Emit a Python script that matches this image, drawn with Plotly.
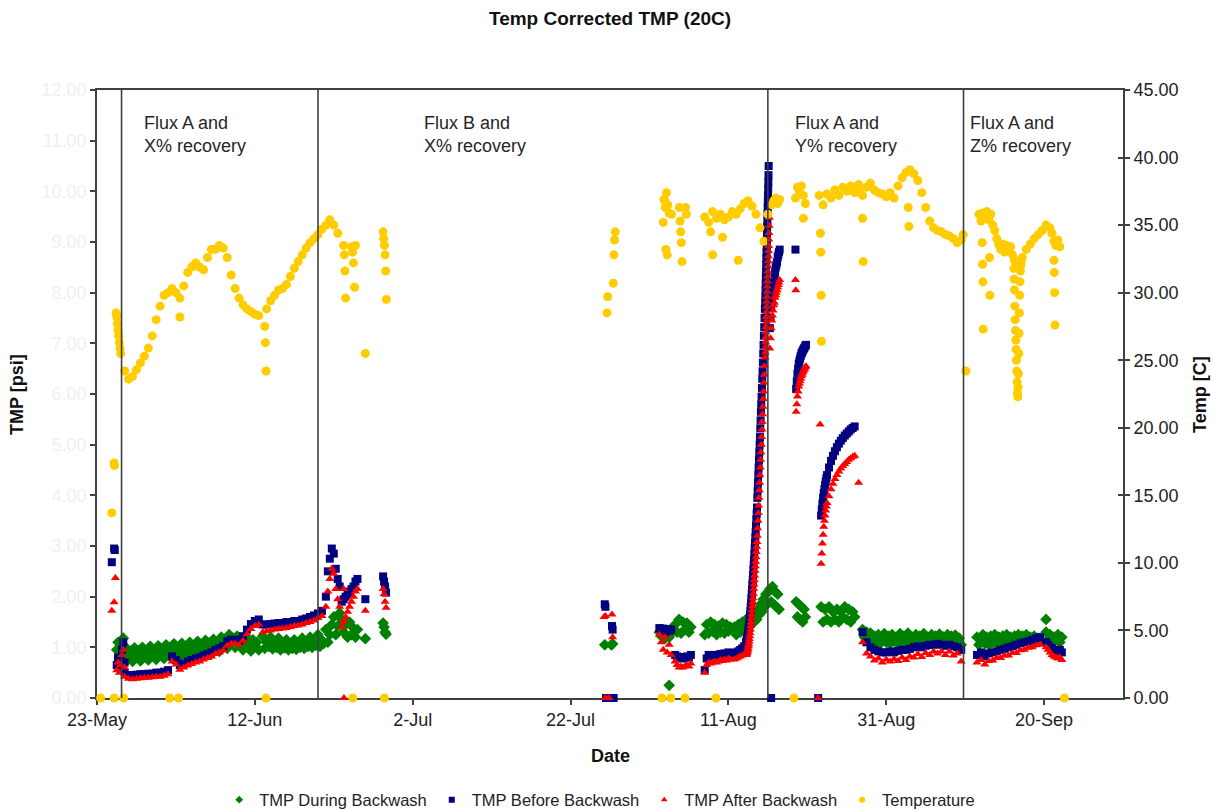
import numpy as np
import pandas as pd
import plotly.graph_objects as go

# ---------------- TMP During Backwash (psi) : segments (start, step hours, values) ----------
g_a_start, g_a_step = "2010-05-25 12:00", 4
g_a = [0.95, 1.10, 0.80, 1.05, 0.90, 1.18, 1.00]
g_b_start, g_b_step = "2010-05-26 12:00", 6
g_b = [0.70, 0.98, 0.82, 0.92, 0.72, 0.99, 0.84, 0.93, 0.73, 1.00, 0.85, 0.94,
       0.75, 1.02, 0.86, 0.95, 0.76, 1.03, 0.88, 0.96, 0.78, 1.05, 0.90, 0.98,
       0.79, 1.07, 0.91, 1.00, 0.81, 1.08, 0.93, 1.01, 0.82, 1.10, 0.95, 1.03,
       0.83, 1.12, 0.96, 1.05, 0.85, 1.14, 0.98, 1.07, 0.87, 1.16, 1.00, 1.10,
       0.92, 1.20, 1.05, 1.14, 0.98, 1.25, 1.10, 1.18, 1.00, 1.22, 1.08, 1.15,
       0.95, 1.18, 1.03, 1.12, 0.93, 1.15, 1.02, 1.10, 0.95]
g_c_start, g_c_step = "2010-06-13 00:00", 6
g_c = [1.22, 0.98, 1.10, 1.02, 1.20, 0.97, 1.08, 1.00, 1.18, 0.95, 1.06, 0.99,
       1.15, 0.95, 1.05, 0.98, 1.15, 0.96, 1.06, 1.00, 1.18, 0.98, 1.08, 1.02,
       1.20, 1.00, 1.10, 1.04, 1.25, 1.02, 1.14, 1.08, 1.35, 1.10, 1.25, 1.45,
       1.60, 1.25, 1.42, 1.68, 1.55, 1.30, 1.45, 1.20, 1.50, 1.25, 1.38, 1.20, 1.35]
g_d_start, g_d_step = "2010-08-02 06:00", 6
g_d = [1.30, 1.22, 1.35, 1.18, 1.32, 1.20, 1.28]
g_e_start, g_e_step = "2010-08-04 06:00", 6
g_e = [1.45, 1.30, 1.55, 1.28, 1.50, 1.35, 1.48, 1.30, 1.40]
g_f_start, g_f_step = "2010-08-08 00:00", 6
g_f = [1.25, 1.45, 1.28, 1.50, 1.32, 1.45, 1.25, 1.42, 1.30, 1.48, 1.28, 1.45, 1.32, 1.40]
g_g_start, g_g_step = "2010-08-11 18:00", 6
g_g = [1.40, 1.25, 1.45, 1.30, 1.50, 1.35, 1.55]
g_h_start, g_h_step = "2010-08-13 06:00", 4
g_h = [1.35, 1.50, 1.40, 1.55, 1.45, 1.60, 1.50, 1.70, 1.55, 1.75, 1.65, 1.85, 1.70, 1.95, 1.80,
       2.05, 1.85, 2.10]
g_i_start, g_i_step = "2010-08-16 06:00", 4
g_i = [2.15, 1.90, 2.20, 1.85, 2.10, 1.80, 2.05, 1.75]
g_j_start, g_j_step = "2010-08-19 14:00", 4
g_j = [1.90, 1.60, 1.85, 1.55, 1.80, 1.50, 1.75, 1.60]
g_k_start, g_k_step = "2010-08-22 18:00", 6
g_k = [1.80, 1.50, 1.75, 1.55, 1.80, 1.50, 1.70, 1.55, 1.75, 1.50, 1.70, 1.60, 1.80, 1.55, 1.75,
       1.50, 1.70, 1.60]
g_l_start, g_l_step = "2010-08-28 00:00", 6
g_l = [1.35, 1.20, 1.30, 1.12, 1.28, 1.10, 1.22, 1.08, 1.25, 1.08, 1.18, 1.27,
       1.10, 1.22, 1.08, 1.25, 1.12, 1.20, 1.08, 1.27, 1.12, 1.22, 1.10, 1.28,
       1.12, 1.20, 1.10, 1.25, 1.10, 1.22, 1.12, 1.27, 1.10, 1.20, 1.12, 1.25,
       1.10, 1.22, 1.12, 1.26, 1.10, 1.20, 1.12, 1.25, 1.12, 1.22, 1.10, 1.24,
       1.08, 1.18, 1.05]
g_m_start, g_m_step = "2010-09-11 12:00", 6
g_m = [1.20, 1.05, 1.15, 1.25, 1.08, 1.20, 1.05, 1.22, 1.10, 1.25, 1.08, 1.20,
       1.10, 1.22, 1.08, 1.25, 1.10, 1.20, 1.08, 1.22, 1.10, 1.25, 1.10, 1.22,
       1.12, 1.25, 1.10, 1.20, 1.12, 1.22, 1.10, 1.18, 1.15]
g_n_start, g_n_step = "2010-09-20 06:00", 6
g_n = [1.30, 1.15, 1.25, 1.10, 1.20, 1.15, 1.25, 1.10, 1.20]
g_extra_t = ["2010-06-26 00:00", "2010-06-28 06:00", "2010-06-28 09:00", "2010-06-28 12:00",
             "2010-06-28 15:00", "2010-07-26 08:00", "2010-07-27 04:00", "2010-07-27 08:00",
             "2010-08-03 12:00", "2010-09-20 06:00"]
g_extra_v = [1.17, 1.48, 1.40, 1.30, 1.26, 1.05, 1.05, 1.07, 0.25, 1.55]

# ---------------- TMP Before Backwash (psi) ----------------
n_a_start, n_a_step = "2010-05-25 12:00", 4
n_a = [0.65, 0.80, 0.60, 0.75, 0.95, 1.10, 0.70]
n_b_start, n_b_step = "2010-05-26 12:00", 12
n_b = [0.50, 0.45, 0.45, 0.46, 0.47, 0.47, 0.48, 0.48, 0.50, 0.50, 0.52, 0.55, 0.82, 0.75, 0.65,
       0.68, 0.72, 0.75, 0.78, 0.80, 0.84, 0.87, 0.90, 0.95, 0.98, 1.02, 1.12, 1.15, 1.15, 1.13,
       1.22, 1.35, 1.46, 1.52, 1.55]
n_c_start, n_c_step = "2010-06-13 00:00", 12
n_c = [1.45, 1.45, 1.46, 1.47, 1.48, 1.48, 1.50, 1.50, 1.52, 1.52, 1.55, 1.57, 1.60, 1.63, 1.67, 1.72]
n_d_start, n_d_step = "2010-06-21 00:00", 6
n_d = [2.00, 2.50, 2.75, 2.95, 2.85, 2.55, 2.35, 2.20]
n_e_start, n_e_step = "2010-06-23 00:00", 6
n_e = [1.90, 1.95, 2.00, 2.05, 2.10, 2.15, 2.20, 2.30, 2.35]
n_f_start, n_f_step = "2010-08-02 06:00", 6
n_f = [1.38, 1.35, 1.37, 1.30, 1.36, 1.33, 1.35]
n_g_start, n_g_step = "2010-08-04 06:00", 6
n_g = [0.85, 0.82, 0.80, 0.80, 0.78, 0.80, 0.82, 0.80, 0.85]
n_h_start, n_h_step = "2010-08-08 00:00", 6
n_h = [0.55, 0.78, 0.85, 0.80, 0.82, 0.85, 0.83, 0.85, 0.87, 0.85, 0.88, 0.86, 0.90, 0.88]
n_i_start, n_i_step = "2010-08-11 18:00", 6
n_i = [0.88, 0.90, 0.92, 0.95, 0.98, 1.02, 1.08]
n_j1_start, n_j1_step = "2010-08-13 06:00", 1
n_j1 = [1.10, 1.12, 1.14, 1.17, 1.20, 1.24, 1.28, 1.33, 1.38, 1.44, 1.50, 1.57, 1.64, 1.72, 1.80,
        1.88, 1.97, 2.06, 2.15, 2.24, 2.33, 2.43, 2.53, 2.63, 2.73, 2.84, 2.95, 3.06, 3.17, 3.28,
        3.40, 3.52, 3.64, 3.76]
n_j2_start, n_j2_step = "2010-08-14 16:00", 1
n_j2 = [3.95, 4.10, 4.25, 4.40, 4.55, 4.70, 4.85, 5.00, 5.15, 5.32, 5.48, 5.65, 5.80, 5.95, 6.12,
        6.30, 6.45, 6.62, 6.80, 6.97, 7.15, 7.32, 7.50, 7.68]
n_j3_start, n_j3_step = "2010-08-15 16:00", 0.5
n_j3 = [7.80, 7.92, 8.05, 8.18, 8.30, 8.42, 8.55, 8.68, 8.80, 8.92, 9.05, 9.18, 9.30, 9.42, 9.55,
        9.68, 9.80, 9.92, 10.05, 10.18, 10.32, 10.50]
n_k_start, n_k_step = "2010-08-16 06:00", 2
n_k = [7.30, 7.50, 7.70, 7.85, 8.00, 8.10, 8.20, 8.30, 8.40, 8.50, 8.55, 8.60, 8.70, 8.75, 8.80, 8.85]
n_l_start, n_l_step = "2010-08-19 14:00", 2
n_l = [6.10, 6.25, 6.40, 6.50, 6.60, 6.65, 6.70, 6.75, 6.80, 6.82, 6.85, 6.88, 6.90, 6.92, 6.95, 6.97]
n_m1_start, n_m1_step = "2010-08-22 18:00", 2
n_m1 = [3.60, 3.72, 3.84, 3.95, 4.04, 4.12, 4.20, 4.27, 4.34]
n_m2_start, n_m2_step = "2010-08-23 12:00", 6
n_m2 = [4.40, 4.55, 4.68, 4.78, 4.87, 4.95, 5.02, 5.08, 5.13, 5.18, 5.22, 5.26, 5.30, 5.33, 5.36]
n_n_start, n_n_step = "2010-08-28 00:00", 12
n_n = [1.30, 1.10, 1.00, 0.95, 0.92, 0.90, 0.90, 0.92, 0.90, 0.93, 0.95, 0.95, 0.97, 1.00, 1.02,
       1.00, 1.03, 1.05, 1.05, 1.07, 1.05, 1.03, 1.05, 1.02, 1.00, 0.95]
n_o_start, n_o_step = "2010-09-11 12:00", 12
n_o = [0.85, 0.90, 0.82, 0.88, 0.90, 0.92, 0.95, 0.97, 1.00, 1.02, 1.05, 1.08, 1.10, 1.12, 1.15,
       1.18, 1.20]
n_p_start, n_p_step = "2010-09-20 06:00", 6
n_p = [1.10, 1.05, 1.00, 0.98, 0.95, 0.95, 0.93, 0.95, 0.90]
n_extra_t = ["2010-05-24 21:00", "2010-05-25 04:00", "2010-05-25 06:00", "2010-06-26 00:00",
             "2010-06-28 06:00", "2010-06-28 09:00", "2010-06-28 12:00", "2010-06-28 15:00",
             "2010-07-26 08:00", "2010-07-26 10:00", "2010-07-27 06:00", "2010-07-27 08:00",
             "2010-08-19 12:00", "2010-07-26 12:00", "2010-07-27 11:00", "2010-08-16 10:00",
             "2010-08-22 09:00"]
n_extra_v = [2.68, 2.95, 2.92, 1.95, 2.40, 2.30, 2.20, 2.08, 1.85, 1.80, 1.42, 1.35, 8.85,
             0.0, 0.0, 0.0, 0.0]

# ---------------- TMP After Backwash (psi) ----------------
r_a_start, r_a_step = "2010-05-25 12:00", 4
r_a = [0.55, 0.70, 0.50, 0.65, 0.85, 0.95, 0.60]
r_b_start, r_b_step = "2010-05-26 12:00", 12
r_b = [0.42, 0.38, 0.37, 0.38, 0.39, 0.40, 0.40, 0.41, 0.42, 0.42, 0.44, 0.47, 0.72, 0.66, 0.56,
       0.60, 0.64, 0.67, 0.70, 0.72, 0.76, 0.79, 0.82, 0.87, 0.90, 0.94, 1.03, 1.07, 1.07, 1.05,
       1.13, 1.26, 1.36, 1.42, 1.45]
r_c_start, r_c_step = "2010-06-13 00:00", 12
r_c = [1.30, 1.32, 1.33, 1.35, 1.36, 1.37, 1.38, 1.40, 1.42, 1.43, 1.45, 1.48, 1.50, 1.53, 1.58, 1.62]
r_d_start, r_d_step = "2010-06-21 00:00", 6
r_d = [1.80, 2.10, 2.35, 2.55, 2.45, 2.15, 1.95, 1.80]
r_e_start, r_e_step = "2010-06-23 00:00", 6
r_e = [1.40, 1.50, 1.60, 1.70, 1.80, 1.90, 2.00, 2.10, 2.15]
r_f_start, r_f_step = "2010-08-02 06:00", 6
r_f = [1.25, 1.10, 0.95, 1.20, 0.90, 1.05, 0.85]
r_g_start, r_g_step = "2010-08-04 06:00", 6
r_g = [0.72, 0.65, 0.60, 0.62, 0.60, 0.63, 0.65, 0.62, 0.68]
r_h_start, r_h_step = "2010-08-08 00:00", 6
r_h = [0.50, 0.65, 0.70, 0.68, 0.70, 0.72, 0.70, 0.72, 0.75, 0.73, 0.76, 0.74, 0.78, 0.76]
r_i_start, r_i_step = "2010-08-11 18:00", 6
r_i = [0.76, 0.78, 0.80, 0.82, 0.84, 0.86, 0.88]
r_j1_start, r_j1_step = "2010-08-13 06:00", 1
r_j1 = [0.85, 0.86, 0.88, 0.90, 0.92, 0.95, 0.98, 1.02, 1.06, 1.11, 1.16, 1.22, 1.28, 1.35, 1.42,
        1.49, 1.57, 1.65, 1.73, 1.81, 1.89, 1.97, 2.06, 2.15, 2.24, 2.33, 2.42, 2.51, 2.60, 2.69,
        2.78, 2.88, 2.98, 3.08]
r_j2_start, r_j2_step = "2010-08-14 16:00", 1
r_j2 = [3.20, 3.35, 3.50, 3.65, 3.80, 3.95, 4.10, 4.25, 4.40, 4.55, 4.70, 4.85, 5.00, 5.15, 5.30,
        5.45, 5.60, 5.75, 5.90, 6.05, 6.22, 6.38, 6.55, 6.72]
r_j3_start, r_j3_step = "2010-08-15 16:00", 0.5
r_j3 = [6.82, 6.92, 7.02, 7.12, 7.22, 7.32, 7.42, 7.52, 7.62, 7.72, 7.82, 7.92, 8.02, 8.12, 8.22,
        8.32, 8.42, 8.52, 8.62, 8.72, 8.82, 8.92, 9.05, 9.18, 9.32, 9.48]
r_k_start, r_k_step = "2010-08-16 06:00", 2
r_k = [6.90, 7.10, 7.30, 7.45, 7.55, 7.65, 7.75, 7.80, 7.90, 7.95, 8.00, 8.05, 8.10, 8.15, 8.20, 8.25]
r_l_start, r_l_step = "2010-08-19 14:00", 2
r_l = [5.65, 5.80, 5.95, 6.05, 6.15, 6.20, 6.25, 6.30, 6.35, 6.38, 6.42, 6.45, 6.48, 6.50, 6.53, 6.55]
r_m1_start, r_m1_step = "2010-08-22 18:00", 2
r_m1 = [2.65, 2.85, 3.05, 3.22, 3.38, 3.50, 3.60, 3.70, 3.78]
r_m2_start, r_m2_step = "2010-08-23 12:00", 6
r_m2 = [3.85, 3.98, 4.12, 4.23, 4.32, 4.40, 4.47, 4.53, 4.58, 4.62, 4.66, 4.70, 4.73, 4.76, 4.78]
r_n_start, r_n_step = "2010-08-28 00:00", 12
r_n = [1.10, 0.88, 0.82, 0.74, 0.78, 0.70, 0.76, 0.72, 0.77, 0.73, 0.80, 0.75, 0.82, 0.80, 0.87,
       0.81, 0.89, 0.85, 0.92, 0.88, 0.92, 0.85, 0.92, 0.84, 0.88, 0.72]
r_o_start, r_o_step = "2010-09-11 12:00", 12
r_o = [0.70, 0.75, 0.66, 0.73, 0.74, 0.79, 0.79, 0.84, 0.84, 0.89, 0.89, 0.94, 0.95, 0.99, 1.00,
       1.04, 1.05]
r_p_start, r_p_step = "2010-09-20 06:00", 6
r_p = [1.00, 0.95, 0.90, 0.85, 0.82, 0.80, 0.78, 0.80, 0.75]
r_extra_t = ["2010-05-24 21:00", "2010-05-25 04:00", "2010-05-25 08:00", "2010-06-23 06:00",
             "2010-06-26 00:00", "2010-06-28 06:00", "2010-06-28 09:00", "2010-06-28 12:00",
             "2010-06-28 15:00", "2010-07-26 06:00", "2010-07-26 10:00", "2010-07-27 06:00",
             "2010-07-27 08:00", "2010-08-19 12:00", "2010-08-19 13:00", "2010-08-22 15:00",
             "2010-08-27 12:00", "2010-06-23 07:00", "2010-07-26 10:00", "2010-07-26 21:00",
             "2010-08-22 09:00"]
r_extra_v = [1.72, 1.89, 2.37, 2.15, 1.72, 2.15, 2.05, 1.90, 1.78, 1.60, 1.62, 1.65, 1.20,
             8.25, 8.05, 5.40, 4.25, 0.0, 0.0, 0.0, 0.0]

# ---------------- Temperature (C) ----------------
t_a_start, t_a_step = "2010-05-25 10:00", 2
t_a = [28.5, 28.2, 27.7, 27.2, 26.8, 26.3, 25.9]
t_b_start, t_b_step = "2010-05-26 00:00", 12
t_b = [25.5, 24.2, 23.6, 23.8, 24.3, 24.8, 25.3, 25.9, 26.8, 28.0, 29.0, 29.8, 30.0, 30.3, 30.0,
       29.6, 30.5, 31.5, 31.9, 32.2, 31.9, 31.7, 32.6, 33.2, 33.2, 33.5, 33.3, 32.6, 31.3, 30.3,
       29.6, 29.1, 28.8, 28.6, 28.4, 28.3]
t_c_start, t_c_step = "2010-06-13 12:00", 12
t_c = [28.8, 29.4, 29.8, 30.2, 30.3, 30.6, 31.2, 31.8, 32.3, 32.8, 33.3, 33.7, 34.0, 34.3, 34.7,
       35.0, 35.4, 35.0, 34.4]
t_d_start, t_d_step = "2010-08-08 00:00", 12
t_d = [35.6, 35.2, 36.0, 35.5, 35.8, 35.4, 35.6, 36.0, 35.8, 36.2, 36.6, 36.8, 36.4, 35.8, 34.8,
       33.8, 35.8]
t_e_start, t_e_step = "2010-08-16 12:00", 6
t_e = [36.5, 36.8, 37.0, 36.6, 36.9]
t_f_start, t_f_step = "2010-08-19 12:00", 6
t_f = [37.0, 37.8, 37.5, 37.9, 37.2, 36.6]
t_g_start, t_g_step = "2010-08-22 12:00", 12
t_g = [37.2, 36.5, 37.3, 37.0, 37.6, 37.2, 37.8, 37.5, 37.9, 37.4, 38.0]
t_h_start, t_h_step = "2010-08-27 12:00", 12
t_h = [37.6, 37.2, 37.8, 38.1, 37.6, 37.4, 37.3, 37.1, 37.4, 37.0, 37.9, 38.5, 38.9, 39.1, 38.8,
       38.3, 37.4, 36.3, 35.3, 34.8, 34.6, 34.5, 34.3, 34.2, 34.0, 33.7, 33.9]
t_i_start, t_i_step = "2010-09-11 18:00", 6
t_i = [35.8, 35.3, 35.9, 35.6, 36.0, 35.4, 35.8, 35.0, 34.6, 34.0, 33.6, 33.2, 33.6, 33.0, 33.5,
       33.1, 33.4, 32.8, 32.4]
t_j_start, t_j_step = "2010-09-16 04:00", 1
t_j = [31.8, 31.0, 30.2, 29.0, 28.0, 27.2, 26.5, 25.8, 25.0, 24.2, 23.4, 22.6, 22.3, 23.0, 24.0,
       25.5, 27.0, 28.5, 29.8, 30.8, 31.6, 32.0, 32.3]
t_k_start, t_k_step = "2010-09-17 06:00", 12
t_k = [32.6, 33.2, 33.6, 34.0, 34.3, 34.6, 35.0, 34.8]
t_l_start, t_l_step = "2010-09-21 00:00", 6
t_l = [34.4, 33.8, 33.5, 33.9, 33.4]
t_extra_t = ["2010-05-24 21:00", "2010-05-25 04:00", "2010-05-25 05:00", "2010-06-02 12:00",
             "2010-06-13 06:00", "2010-06-13 08:00", "2010-06-13 10:00",
             "2010-06-23 06:00", "2010-06-23 08:00", "2010-06-23 10:00", "2010-06-23 12:00",
             "2010-06-24 06:00", "2010-06-24 09:00", "2010-06-24 12:00", "2010-06-24 15:00",
             "2010-06-24 18:00", "2010-06-26 00:00",
             "2010-06-28 06:00", "2010-06-28 08:00", "2010-06-28 10:00", "2010-06-28 12:00",
             "2010-06-28 14:00", "2010-06-28 16:00",
             "2010-07-26 15:00", "2010-07-26 17:00", "2010-07-27 10:00", "2010-07-27 12:00",
             "2010-07-27 14:00", "2010-07-27 16:00",
             "2010-08-02 18:00", "2010-08-02 20:00", "2010-08-02 22:00", "2010-08-03 00:00",
             "2010-08-03 02:00", "2010-08-03 04:00", "2010-08-03 06:00", "2010-08-03 08:00",
             "2010-08-03 12:00", "2010-08-03 19:00", "2010-08-04 19:00", "2010-08-04 21:00",
             "2010-08-04 23:00", "2010-08-05 01:00", "2010-08-05 03:00", "2010-08-05 14:00",
             "2010-08-05 16:00",
             "2010-08-08 18:00", "2010-08-09 00:00", "2010-08-10 06:00", "2010-08-12 06:00",
             "2010-08-20 12:00", "2010-08-22 16:00", "2010-08-22 17:00", "2010-08-22 18:00",
             "2010-08-22 19:00", "2010-08-28 00:00", "2010-08-28 02:00", "2010-09-02 19:00",
             "2010-09-02 21:00", "2010-09-09 18:00", "2010-09-10 02:00",
             "2010-09-12 04:00", "2010-09-12 05:00", "2010-09-12 06:00", "2010-09-12 07:00",
             "2010-09-13 02:00", "2010-09-13 03:00",
             "2010-09-21 06:00", "2010-09-21 07:00", "2010-09-21 08:00", "2010-09-21 09:00",
             "2010-05-23 11:00", "2010-05-25 04:00", "2010-05-26 09:00", "2010-06-01 05:00",
             "2010-06-02 08:00", "2010-06-13 10:00", "2010-06-24 10:00", "2010-06-28 10:00",
             "2010-08-02 14:00", "2010-08-03 17:00", "2010-08-05 12:00", "2010-08-09 10:00",
             "2010-08-19 07:00", "2010-09-22 14:00"]
t_extra_v = [13.7, 17.4, 17.2, 28.2,
             27.5, 26.3, 24.2,
             33.5, 32.8, 31.6, 29.6,
             33.4, 33.0, 32.2, 30.4,
             33.5, 25.5,
             34.5, 34.0, 33.5, 32.8,
             31.6, 29.5,
             28.5, 29.7, 30.7, 32.8,
             33.9, 34.5,
             35.2, 36.9, 36.8, 36.3,
             33.2, 37.4, 32.8, 36.5,
             35.9, 35.8, 36.3, 35.3,
             34.5, 33.7, 32.3, 36.3,
             35.8,
             34.5, 32.8, 34.1, 32.4,
             35.5, 34.4, 33.0, 29.8,
             26.4, 35.5, 32.3, 36.3,
             34.9, 34.3, 24.2,
             33.7, 32.1, 30.8, 27.3,
             32.6, 29.8,
             32.4, 31.5, 30.0, 27.6,
             0.0, 0.0, 0.0, 0.0,
             0.0, 0.0, 0.0, 0.0,
             0.0, 0.0, 0.0, 0.0,
             0.0, 0.0]

# ---------------- chart text ----------------
x_tick_start = "2010-05-23"
x_range = ["2010-05-23", "2010-09-30"]
phase_lines = ["2010-05-26 02:40", "2010-06-20 00:00", "2010-08-16 00:00", "2010-09-09 19:00"]
phase_label_x = ["2010-05-28 18:00", "2010-07-03 05:00", "2010-08-19 04:30", "2010-09-10 10:00"]
phase_labels = ["Flux A and<br>X% recovery", "Flux B and<br>X% recovery",
                "Flux A and<br>Y% recovery", "Flux A and<br>Z% recovery"]


def build(segments, extra_t, extra_v):
    xs, ys = [], []
    for start, step, vals in segments:
        t = pd.Timestamp(start) + pd.to_timedelta(np.arange(len(vals)) * step, unit="h")
        xs.extend(t)
        ys.extend(vals)
    xs.extend(pd.to_datetime(extra_t))
    ys.extend(extra_v)
    return xs, ys


during_x, during_y = build([
    (g_a_start, g_a_step, g_a), (g_b_start, g_b_step, g_b), (g_c_start, g_c_step, g_c),
    (g_d_start, g_d_step, g_d), (g_e_start, g_e_step, g_e), (g_f_start, g_f_step, g_f),
    (g_g_start, g_g_step, g_g), (g_h_start, g_h_step, g_h), (g_i_start, g_i_step, g_i),
    (g_j_start, g_j_step, g_j), (g_k_start, g_k_step, g_k), (g_l_start, g_l_step, g_l),
    (g_m_start, g_m_step, g_m), (g_n_start, g_n_step, g_n)], g_extra_t, g_extra_v)

before_x, before_y = build([
    (n_a_start, n_a_step, n_a), (n_b_start, n_b_step, n_b), (n_c_start, n_c_step, n_c),
    (n_d_start, n_d_step, n_d), (n_e_start, n_e_step, n_e), (n_f_start, n_f_step, n_f),
    (n_g_start, n_g_step, n_g), (n_h_start, n_h_step, n_h), (n_i_start, n_i_step, n_i),
    (n_j1_start, n_j1_step, n_j1), (n_j2_start, n_j2_step, n_j2), (n_j3_start, n_j3_step, n_j3),
    (n_k_start, n_k_step, n_k), (n_l_start, n_l_step, n_l), (n_m1_start, n_m1_step, n_m1),
    (n_m2_start, n_m2_step, n_m2), (n_n_start, n_n_step, n_n), (n_o_start, n_o_step, n_o),
    (n_p_start, n_p_step, n_p)], n_extra_t, n_extra_v)

after_x, after_y = build([
    (r_a_start, r_a_step, r_a), (r_b_start, r_b_step, r_b), (r_c_start, r_c_step, r_c),
    (r_d_start, r_d_step, r_d), (r_e_start, r_e_step, r_e), (r_f_start, r_f_step, r_f),
    (r_g_start, r_g_step, r_g), (r_h_start, r_h_step, r_h), (r_i_start, r_i_step, r_i),
    (r_j1_start, r_j1_step, r_j1), (r_j2_start, r_j2_step, r_j2), (r_j3_start, r_j3_step, r_j3),
    (r_k_start, r_k_step, r_k), (r_l_start, r_l_step, r_l), (r_m1_start, r_m1_step, r_m1),
    (r_m2_start, r_m2_step, r_m2), (r_n_start, r_n_step, r_n), (r_o_start, r_o_step, r_o),
    (r_p_start, r_p_step, r_p)], r_extra_t, r_extra_v)

temp_x, temp_y = build([
    (t_a_start, t_a_step, t_a), (t_b_start, t_b_step, t_b), (t_c_start, t_c_step, t_c),
    (t_d_start, t_d_step, t_d), (t_e_start, t_e_step, t_e), (t_f_start, t_f_step, t_f),
    (t_g_start, t_g_step, t_g), (t_h_start, t_h_step, t_h), (t_i_start, t_i_step, t_i),
    (t_j_start, t_j_step, t_j), (t_k_start, t_k_step, t_k), (t_l_start, t_l_step, t_l)],
    t_extra_t, t_extra_v)

FONT = "Liberation Sans, Arial, sans-serif"
AX = "#404040"
GREEN, NAVY, RED, GOLD = "#008000", "#000080", "#FF0000", "#FFCC00"

fig = go.Figure()
series = [
    ("TMP During Backwash", during_x, during_y, "diamond", GREEN, 9, "y"),
    ("TMP Before Backwash", before_x, before_y, "square", NAVY, 8, "y"),
    ("TMP After Backwash", after_x, after_y, "triangle-up", RED, 8, "y"),
    ("Temperature", temp_x, temp_y, "circle", GOLD, 9, "y2"),
]
for name, xs, ys, sym, col, sz, ax in series:
    fig.add_trace(go.Scatter(x=xs, y=ys, mode="markers", name=name, yaxis=ax,
                             marker=dict(symbol=sym, color=col, size=sz, line=dict(width=0)),
                             cliponaxis=False, showlegend=False))
# legend entries with small symbols
for name, xs, ys, sym, col, sz, ax in series:
    fig.add_trace(go.Scatter(x=[None], y=[None], mode="markers", name=name, yaxis=ax,
                             marker=dict(symbol=sym, color=col, size=6), showlegend=True))
# helper trace for inner ticks of the right axis
fig.add_trace(go.Scatter(x=[None], y=[None], yaxis="y3", showlegend=False, hoverinfo="skip"))

for xv in phase_lines:
    fig.add_shape(type="line", xref="x", yref="paper", x0=xv, x1=xv, y0=0, y1=1,
                  line=dict(color=AX, width=1.6))

for xv, txt in zip(phase_label_x, phase_labels):
    fig.add_annotation(x=xv, xref="x", y=0.966, yref="paper", text=txt, showarrow=False,
                       xanchor="left", yanchor="top", align="left",
                       font=dict(family=FONT, size=18, color="#262626"))

fig.add_annotation(x=-0.078, xref="paper", y=0.5, yref="paper", text="<b>TMP [psi]</b>",
                   textangle=-90, showarrow=False, xanchor="center", yanchor="middle",
                   font=dict(family=FONT, size=18, color="#111"))
fig.add_annotation(x=1.075, xref="paper", y=0.5, yref="paper", text="<b>Temp [C]</b>",
                   textangle=-90, showarrow=False, xanchor="center", yanchor="middle",
                   font=dict(family=FONT, size=18, color="#111"))
fig.add_annotation(x=0.5, xref="paper", y=-0.0954, yref="paper", text="<b>Date</b>",
                   showarrow=False, xanchor="center", yanchor="middle",
                   font=dict(family=FONT, size=18, color="#111"))

fig.update_layout(
    width=1212, height=810,
    margin=dict(l=97, r=89, t=90, b=112, autoexpand=False),
    paper_bgcolor="white", plot_bgcolor="white",
    font=dict(family=FONT, size=18, color="#222"),
    title=dict(text="<b>Temp Corrected TMP (20C)</b>", x=0.5, xref="paper", xanchor="center",
               y=1 - 18 / 810, yanchor="middle", font=dict(family=FONT, size=19, color="#111")),
    legend=dict(orientation="h", x=0.49, xanchor="center", yref="container",
                y=1 - 800 / 810, yanchor="middle",
                font=dict(family=FONT, size=16.5, color="#222"), bgcolor="rgba(0,0,0,0)"),
    xaxis=dict(type="date", range=x_range, tick0=x_tick_start, dtick=20 * 86400000,
               tickformat="%-d-%b", ticks="outside", ticklen=5, tickcolor=AX, tickwidth=1.5,
               showline=True, linecolor=AX, linewidth=1.6, mirror=True, showgrid=False,
               zeroline=False, layer="below traces", tickfont=dict(size=18, color="#222")),
    yaxis=dict(range=[0, 12], dtick=1, tickformat=".2f", ticks="outside", ticklen=5,
               tickcolor=AX, tickwidth=1.5, showline=True, linecolor=AX, linewidth=1.6,
               mirror=True, showgrid=False, zeroline=False, layer="below traces",
               tickfont=dict(size=18, color="#f0f0f0")),
    yaxis2=dict(range=[0, 45], dtick=5, tickformat=".2f", overlaying="y", side="right",
                ticks="outside", ticklen=5, tickcolor=AX, tickwidth=1.5, showline=True,
                linecolor=AX, linewidth=1.6, showgrid=False, zeroline=False,
                layer="below traces", tickfont=dict(size=18, color="#222")),
    yaxis3=dict(range=[0, 45], dtick=5, overlaying="y", side="right", anchor="x",
                ticks="inside", ticklen=5, tickcolor=AX, tickwidth=1.5, showticklabels=False,
                showline=False, showgrid=False, zeroline=False),
)

fig.write_html("out.html")
